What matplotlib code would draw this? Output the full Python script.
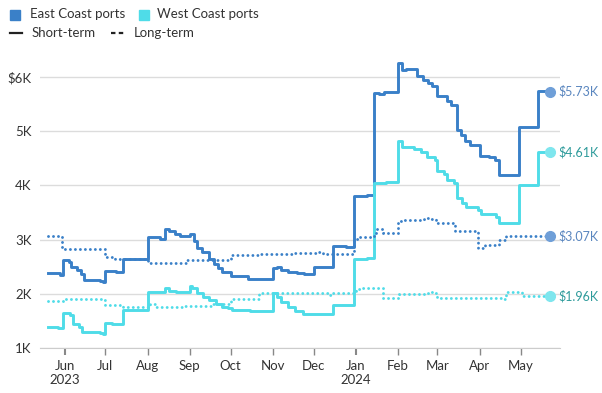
import matplotlib
matplotlib.use("Agg")
import matplotlib.pyplot as plt
from matplotlib.patches import Rectangle
from matplotlib.lines import Line2D
import pandas as pd

# Tarifas de contenedores (miles de USD), cada valor rige desde su fecha
east_short_fechas = ["2023-05-20", "2023-05-29", "2023-05-31", "2023-06-04", "2023-06-06", "2023-06-10",
                     "2023-06-13", "2023-06-15", "2023-06-27", "2023-06-29", "2023-07-01", "2023-07-09",
                     "2023-07-14", "2023-08-01", "2023-08-10", "2023-08-14", "2023-08-17", "2023-08-21",
                     "2023-08-25", "2023-09-01", "2023-09-04", "2023-09-06", "2023-09-10", "2023-09-15",
                     "2023-09-19", "2023-09-22", "2023-09-25", "2023-10-01", "2023-10-14", "2023-11-01",
                     "2023-11-04", "2023-11-07", "2023-11-12", "2023-11-19", "2023-11-24", "2023-12-01",
                     "2023-12-15", "2023-12-25", "2023-12-31", "2024-01-09", "2024-01-14", "2024-01-18",
                     "2024-01-22", "2024-02-01", "2024-02-04", "2024-02-07", "2024-02-15", "2024-02-19",
                     "2024-02-23", "2024-02-26", "2024-03-01", "2024-03-08", "2024-03-11", "2024-03-15",
                     "2024-03-18", "2024-03-21", "2024-03-25", "2024-04-01", "2024-04-08", "2024-04-12",
                     "2024-04-15", "2024-04-30", "2024-05-14", "2024-05-23"]
east_short = [2.38, 2.34, 2.62, 2.58, 2.50, 2.43,
              2.36, 2.25, 2.23, 2.21, 2.42, 2.40,
              2.64, 3.04, 3.02, 3.20, 3.15, 3.10,
              3.07, 3.11, 2.98, 2.84, 2.78, 2.64,
              2.55, 2.47, 2.41, 2.33, 2.27, 2.47,
              2.49, 2.44, 2.41, 2.38, 2.36, 2.49,
              2.89, 2.87, 3.80, 3.82, 5.70, 5.68,
              5.72, 6.26, 6.13, 6.15, 6.02, 5.95,
              5.88, 5.84, 5.64, 5.55, 5.48, 5.02,
              4.93, 4.82, 4.75, 4.54, 4.52, 4.47,
              4.19, 5.07, 5.75, 5.73]

west_short_fechas = ["2023-05-20", "2023-05-27", "2023-05-31", "2023-06-05", "2023-06-07", "2023-06-12",
                     "2023-06-14", "2023-06-27", "2023-06-29", "2023-07-01", "2023-07-06", "2023-07-14",
                     "2023-08-01", "2023-08-14", "2023-08-17", "2023-08-22", "2023-09-01", "2023-09-03",
                     "2023-09-06", "2023-09-11", "2023-09-15", "2023-09-20", "2023-09-25", "2023-09-29",
                     "2023-10-02", "2023-10-15", "2023-11-01", "2023-11-04", "2023-11-07", "2023-11-12",
                     "2023-11-17", "2023-11-23", "2023-12-01", "2023-12-15", "2023-12-31", "2024-01-09",
                     "2024-01-14", "2024-01-23", "2024-02-01", "2024-02-04", "2024-02-13", "2024-02-18",
                     "2024-02-22", "2024-02-28", "2024-03-01", "2024-03-06", "2024-03-08", "2024-03-13",
                     "2024-03-15", "2024-03-19", "2024-03-22", "2024-03-31", "2024-04-02", "2024-04-13",
                     "2024-04-15", "2024-04-30", "2024-05-14", "2024-05-23"]
west_short = [1.39, 1.36, 1.64, 1.60, 1.45, 1.39,
              1.30, 1.28, 1.26, 1.46, 1.44, 1.71,
              2.03, 2.11, 2.05, 2.03, 2.14, 2.10,
              2.01, 1.95, 1.89, 1.82, 1.76, 1.73,
              1.71, 1.69, 2.01, 1.95, 1.85, 1.76,
              1.68, 1.63, 1.62, 1.79, 2.64, 2.66,
              4.04, 4.07, 4.82, 4.70, 4.68, 4.62,
              4.53, 4.47, 4.26, 4.21, 4.10, 4.04,
              3.76, 3.67, 3.61, 3.55, 3.47, 3.42,
              3.30, 4.01, 4.61, 4.61]

east_long_fechas = ["2023-05-20", "2023-05-30", "2023-07-01", "2023-07-08", "2023-08-01", "2023-08-29",
                    "2023-10-01", "2023-10-22", "2023-11-15", "2023-12-04", "2023-12-08", "2023-12-31",
                    "2024-01-04", "2024-01-13", "2024-01-16", "2024-01-21", "2024-02-01", "2024-02-03",
                    "2024-02-20", "2024-02-24", "2024-02-29", "2024-03-14", "2024-03-31", "2024-04-05",
                    "2024-04-15", "2024-04-20", "2024-05-23"]
east_long = [3.07, 2.83, 2.67, 2.65, 2.56, 2.62,
             2.72, 2.74, 2.75, 2.78, 2.73, 3.02,
             3.05, 3.07, 3.19, 3.12, 3.34, 3.36,
             3.39, 3.38, 3.30, 3.15, 2.84, 2.90,
             2.99, 3.07, 3.07]

west_long_fechas = ["2023-05-20", "2023-06-01", "2023-06-29", "2023-07-01", "2023-07-14", "2023-08-01",
                    "2023-08-03", "2023-08-07", "2023-08-26", "2023-09-18", "2023-10-01", "2023-10-22",
                    "2023-11-07", "2023-12-13", "2023-12-15", "2024-01-01", "2024-01-05", "2024-01-21",
                    "2024-02-02", "2024-02-23", "2024-02-28", "2024-03-01", "2024-04-18", "2024-04-20",
                    "2024-05-02", "2024-05-23"]
west_long = [1.87, 1.90, 1.89, 1.79, 1.76, 1.78,
             1.81, 1.76, 1.78, 1.81, 1.90, 2.02,
             2.01, 1.98, 2.02, 2.08, 2.10, 1.93,
             1.99, 2.04, 2.02, 1.92, 1.90, 2.03,
             1.96, 1.96]

meses = ["2023-06-01", "2023-07-01", "2023-08-01", "2023-09-01", "2023-10-01", "2023-11-01",
         "2023-12-01", "2024-01-01", "2024-02-01", "2024-03-01", "2024-04-01", "2024-05-01"]
etiquetas_meses = ["Jun\n2023", "Jul", "Aug", "Sep", "Oct", "Nov", "Dec", "Jan\n2024",
                   "Feb", "Mar", "Apr", "May"]

azul = "#3a80c8"
cian = "#4fdce8"
punteado = (0, (0.01, 1.7))

plt.rcParams["font.family"] = ["Lato", "DejaVu Sans"]
fig = plt.figure(figsize=(6.02, 3.93), dpi=100)
ax = fig.add_axes([40 / 602, 45 / 393, 520 / 602, 290 / 393])

series = [
    (east_short_fechas, east_short, azul, "-", "#6f9fd8", "#5a86bf"),
    (west_short_fechas, west_short, cian, "-", "#7fe6ee", "#2e9b9b"),
    (east_long_fechas, east_long, azul, punteado, "#6f9fd8", "#5a86bf"),
    (west_long_fechas, west_long, cian, punteado, "#7fe6ee", "#2e9b9b"),
]
for fechas, valores, color, estilo, c_punto, c_texto in series:
    x = pd.to_datetime(fechas)
    ax.plot(x, valores, color=color, lw=2.1, ls=estilo, drawstyle="steps-post",
            solid_joinstyle="round", dash_capstyle="round", zorder=3)
    ax.plot(x[-1], valores[-1], "o", color=c_punto, ms=7, zorder=4)
    ax.annotate(f"${valores[-1]:.2f}K", (x[-1], valores[-1]), xytext=(6, 0),
                textcoords="offset points", va="center", ha="left",
                color=c_texto, fontsize=9, annotation_clip=False)

ax.set_xlim(pd.Timestamp("2023-05-14"), pd.Timestamp("2024-05-30"))
ax.set_ylim(1, 6.35)
ax.set_yticks([1, 2, 3, 4, 5, 6])
ax.set_yticklabels(["1K", "2K", "3K", "4K", "5K", "$6K"])
ax.yaxis.grid(True, color="#dcdcdc", lw=1)
ax.set_axisbelow(True)
ax.tick_params(axis="y", length=0, pad=6, labelsize=9.5, labelcolor="#333333")

ax.set_xticks(pd.to_datetime(meses))
ax.set_xticklabels(etiquetas_meses)
ax.tick_params(axis="x", length=5, width=1, color="#888888", pad=4,
               labelsize=9.5, labelcolor="#333333")
for tick, etiqueta in zip(ax.xaxis.get_major_ticks(), etiquetas_meses):
    if "\n" in etiqueta:
        tick.tick1line.set_color("#222222")
        tick.tick1line.set_markeredgewidth(1.5)
    tick.label1.set_linespacing(1.1)
    tick.label1.set_verticalalignment("top")

for lado in ["top", "right", "left"]:
    ax.spines[lado].set_visible(False)
ax.spines["bottom"].set_color("#cccccc")

# Leyenda manual
fig.add_artist(Rectangle((10 / 602, 1 - 20 / 393), 10 / 602, 10 / 393,
                         transform=fig.transFigure, color=azul))
fig.text(30 / 602, 1 - 14 / 393, "East Coast ports", fontsize=9.5, color="#333333", va="center")
fig.add_artist(Rectangle((139 / 602, 1 - 20 / 393), 10 / 602, 10 / 393,
                         transform=fig.transFigure, color=cian))
fig.text(157 / 602, 1 - 14 / 393, "West Coast ports", fontsize=9.5, color="#333333", va="center")
fig.add_artist(Line2D([10 / 602, 22 / 602], [1 - 33 / 393] * 2, transform=fig.transFigure,
                      color="#222222", lw=1.6))
fig.text(32 / 602, 1 - 33 / 393, "Short-term", fontsize=9.5, color="#333333", va="center")
fig.add_artist(Line2D([111 / 602, 125 / 602], [1 - 33 / 393] * 2, transform=fig.transFigure,
                      color="#222222", lw=1.6, ls=(0, (2, 1.5))))
fig.text(134 / 602, 1 - 33 / 393, "Long-term", fontsize=9.5, color="#333333", va="center")

fig.savefig("out.png", dpi=100)
